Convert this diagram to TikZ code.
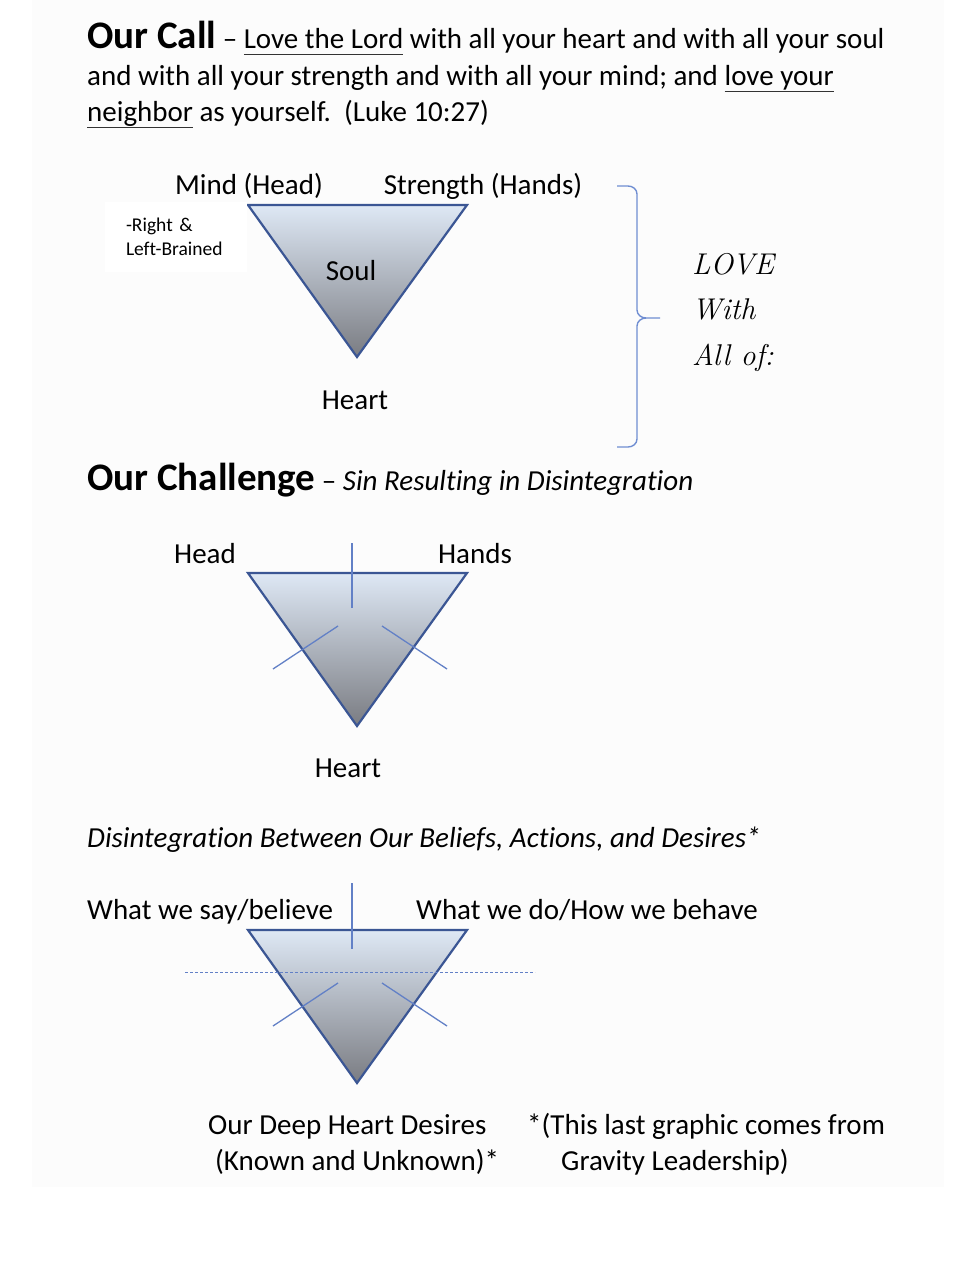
\documentclass[tikz,border=0pt]{standalone}
\usepackage{fontspec}
\setsansfont{Carlito}[Ligatures=NoCommon]
\renewcommand{\familydefault}{\sfdefault}
\usepackage{tikz}
\usetikzlibrary{positioning}
\usepackage{xcolor}

\definecolor{triedge}{RGB}{59,86,148}
\definecolor{tritop}{RGB}{222,232,245}
\definecolor{tribot}{RGB}{122,124,130}
\definecolor{crackblue}{RGB}{98,128,198}
\definecolor{bracecol}{RGB}{112,142,210}
\definecolor{pagegray}{RGB}{252,252,252}

\newsavebox{\ulbox}
\newcommand{\uln}[1]{\sbox{\ulbox}{#1}\rlap{\textcolor{black!80}{\rule[-6pt]{\wd\ulbox}{1.3pt}}}\usebox{\ulbox}}
\newcommand{\headfont}{\fontsize{39}{45}\selectfont\bfseries}

\begin{document}
\begin{tikzpicture}[x=1pt, y=-1pt,
bodytext/.style={font=\fontsize{29}{35}\selectfont, inner sep=0pt},
lovetext/.style={font=\rmfamily\itshape\fontsize{30}{35}\selectfont, inner sep=0pt, anchor=base west},
brainbox/.style={fill=white, font=\fontsize{19.5}{24}\selectfont, align=left, text width=100pt, minimum width=142pt, minimum height=70pt, inner sep=0pt},
triangle/.style={draw=triedge, line width=2.2pt, top color=tritop, bottom color=tribot},
crack/.style={draw=crackblue, line width=1.3pt},
bracepath/.style={draw=bracecol, line width=1.4pt},
]
\useasboundingbox (0,0) rectangle (966,1284);
\fill[pagegray] (32,0) rectangle (944,1187);

%Our Call
\node[bodytext, anchor=base west] (call1) at (87,49) {{\headfont Our Call} – \uln{Love the Lord} with all your heart and with all your soul};
\node[bodytext, anchor=base west] (call2) at (87,86) {and with all your strength and with all your mind; and \uln{love your}};
\node[bodytext, anchor=base west] (call3) at (87,122) {\uln{neighbor} as yourself.\ \ (Luke 10:27)};

%Triangle one
\coordinate (mindA) at (248,205);
\coordinate (handsA) at (467,205);
\coordinate (heartA) at (357,357);
\draw[triangle] (mindA) -- (handsA) -- (heartA) -- cycle;
\node[bodytext, anchor=base] (mind) at (249,194) {Mind (Head)};
\node[bodytext, anchor=base] (strength) at (483,194) {Strength (Hands)};
\node[brainbox] (brain) at (176,237) {-Right \&\\Left-Brained};
\node[bodytext, anchor=base] (soul) at (351,280) {Soul};
\node[bodytext, anchor=base] (heart) at (355,409) {Heart};

%Brace
\draw[bracepath] (617,186) -- (628,186) to[out=0,in=90] (637,194) -- (637,310)
	to[out=-90,in=180] (646,318) -- (660,318);
\draw[bracepath] (646,318) to[out=180,in=90] (637,326) -- (637,439)
	to[out=-90,in=0] (628,447) -- (617,447);
\node[lovetext] (love) at (692,274) {LOVE};
\node[lovetext] (with) at (692,319) {With};
\node[lovetext] (allof) at (692,365) {All of:};

%Our Challenge
\node[bodytext, anchor=base west] (challenge) at (87,490) {{\headfont Our Challenge} – \textit{Sin Resulting in Disintegration}};

%Triangle two
\coordinate (headB) at (248,573);
\coordinate (handsB) at (467,573);
\coordinate (heartB) at (357,726);
\draw[triangle] (headB) -- (handsB) -- (heartB) -- cycle;
\draw[crack] (352,543) -- (352,608);
\draw[crack] (273,669) -- (338,626);
\draw[crack] (382,626) -- (447,669);
\node[bodytext, anchor=base] (head) at (205,563) {Head};
\node[bodytext, anchor=base] (hands) at (475,563) {Hands};
\node[bodytext, anchor=base] (heart2) at (348,777) {Heart};

%Disintegration
\node[bodytext, anchor=base west] (disint) at (87,847) {\textit{Disintegration Between Our Beliefs, Actions, and Desires*}};

%Triangle three
\coordinate (sayC) at (248,930);
\coordinate (doC) at (467,930);
\coordinate (desireC) at (357,1083);
\draw[triangle] (sayC) -- (doC) -- (desireC) -- cycle;
\draw[crack] (352,883) -- (352,949);
\draw[crack, line width=1pt, dash pattern=on 3pt off 2pt] (185,972) -- (535,972);
\draw[crack] (273,1026) -- (338,983);
\draw[crack] (382,983) -- (447,1026);
\node[bodytext, anchor=base west] (say) at (87,919) {What we say/believe};
\node[bodytext, anchor=base west] (do) at (416,919) {What we do/How we behave};
\node[bodytext, anchor=base west] (deep1) at (208,1134) {Our Deep Heart Desires};
\node[bodytext, anchor=base west] (deep2) at (215,1170) {(Known and Unknown)*};
\node[bodytext, anchor=base west] (note1) at (527,1134) {*(This last graphic comes from};
\node[bodytext, anchor=base west] (note2) at (561,1170) {Gravity Leadership)};

\end{tikzpicture}
\end{document}
